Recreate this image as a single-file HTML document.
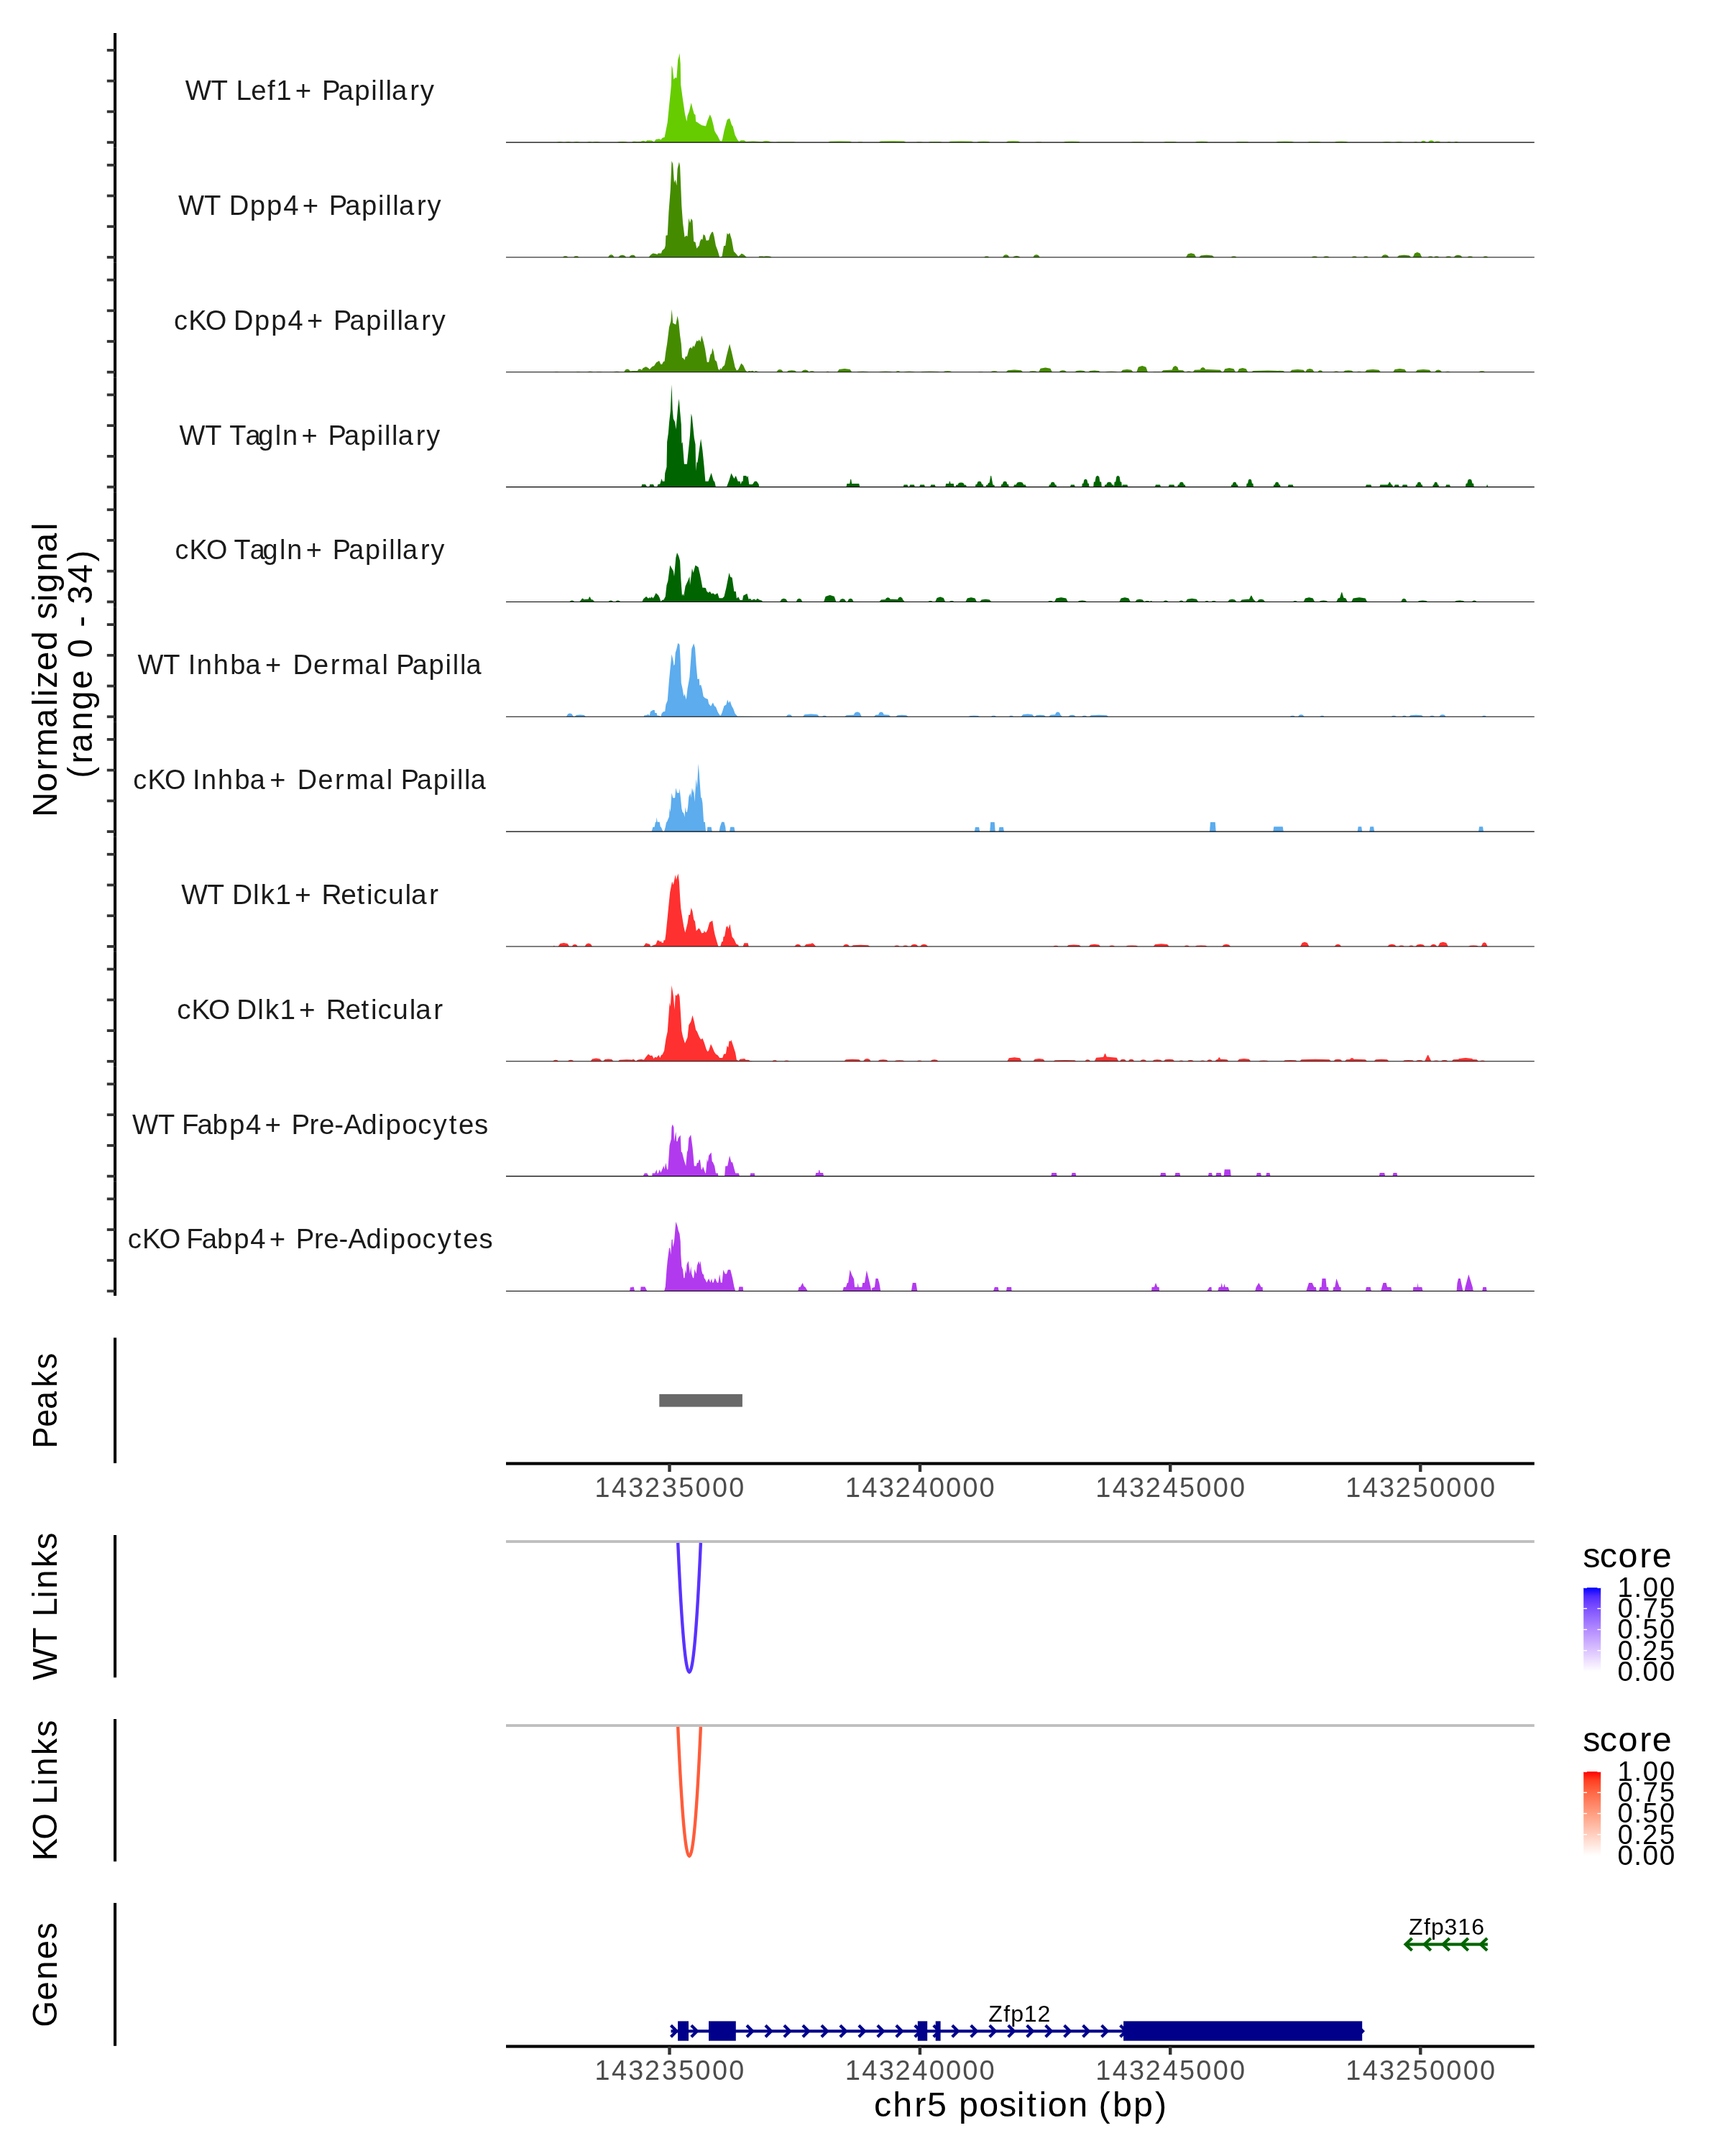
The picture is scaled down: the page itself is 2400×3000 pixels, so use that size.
<!DOCTYPE html><html><head><meta charset="utf-8"><style>html,body{margin:0;padding:0;background:#fff;}svg{display:block;font-family:"Liberation Sans",sans-serif;will-change:transform;}</style></head><body><svg width="2400" height="3000" viewBox="0 0 2400 3000" font-family="Liberation Sans, sans-serif">
<rect x="0" y="0" width="2400" height="3000" fill="#ffffff"/>
<g fill="#66CC00"><polygon points="880.0,198.1 880.0,197.5 891.6,196.9 895.1,195.8 898.6,196.9 900.3,195.2 906.7,195.5 910.1,197.5 912.5,194.0 917.1,193.2 919.4,194.4 921.7,191.7 924.6,191.1 926.4,181.9 928.7,170.3 931.0,147.1 932.8,129.7 933.9,118.1 934.5,90.9 935.7,94.9 937.4,110.6 939.7,107.7 941.4,108.8 943.2,83.3 944.3,79.8 945.5,74.0 946.7,89.1 947.2,118.1 949.6,135.5 953.0,158.7 955.4,169.1 956.5,161.0 958.8,155.2 961.7,143.0 963.5,150.6 965.8,158.7 967.5,159.8 968.1,169.1 970.4,170.3 972.8,172.0 976.2,174.3 982.0,175.5 984.3,168.0 987.8,159.3 990.1,164.5 992.5,173.8 994.2,181.9 995.9,185.3 998.3,188.8 1001.7,195.8 1004.1,196.4 1005.2,193.5 1007.5,181.9 1011.6,166.8 1015.1,164.5 1018.0,173.8 1019.7,176.1 1022.6,187.7 1026.1,194.6 1028.4,196.9 1030.7,195.2 1035.4,195.2 1037.7,196.9 1048.1,196.4 1059.7,197.3 1065.5,196.4 1071.3,197.5 1080.0,198.1 1080.0,198.1"/><polygon points="774.6,198.1 776.6,197.4 779.0,197.2 781.4,197.4 783.3,198.1"/><polygon points="786.2,198.1 788.1,197.4 790.6,197.2 793.0,197.4 794.9,198.1"/><polygon points="797.8,198.1 799.7,197.4 802.2,197.2 804.6,197.4 806.5,198.1"/><polygon points="816.7,198.1 818.3,197.4 820.3,197.2 822.3,197.4 823.9,198.1"/><polygon points="823.9,198.1 826.4,197.4 829.7,197.2 833.0,197.4 835.5,198.1"/><polygon points="858.7,198.1 861.2,197.2 865.9,196.9 870.7,197.2 873.2,198.1"/><polygon points="879.0,198.1 880.6,196.9 882.6,196.7 884.6,196.9 886.2,198.1"/><polygon points="890.6,198.1 892.2,196.7 894.2,196.4 896.2,196.7 897.8,198.1"/><polygon points="899.3,198.1 901.2,196.2 903.6,195.8 906.1,196.2 908.0,198.1"/><polygon points="1060.0,198.1 1062.5,196.6 1066.3,196.2 1070.0,196.6 1072.5,198.1"/><polygon points="1078.8,198.1 1081.3,197.6 1092.9,197.5 1104.5,197.6 1107.0,198.1"/><polygon points="1152.4,198.1 1154.9,196.8 1168.8,196.5 1182.7,196.8 1185.2,198.1"/><polygon points="1193.1,198.1 1194.8,197.6 1197.0,197.5 1199.2,197.6 1200.9,198.1"/><polygon points="1222.8,198.1 1225.3,196.6 1241.6,196.2 1257.9,196.6 1260.4,198.1"/><polygon points="1274.5,198.1 1276.5,197.6 1279.2,197.5 1281.8,197.6 1283.9,198.1"/><polygon points="1291.7,198.1 1294.2,197.3 1301.1,197.2 1308.0,197.3 1310.5,198.1"/><polygon points="1319.9,198.1 1322.4,196.8 1337.1,196.5 1351.8,196.8 1354.3,198.1"/><polygon points="1359.0,198.1 1361.5,197.1 1368.4,196.8 1375.3,197.1 1377.8,198.1"/><polygon points="1399.7,198.1 1402.2,196.6 1409.6,196.2 1416.9,196.6 1419.4,198.1"/><polygon points="1440.4,198.1 1442.5,197.6 1445.1,197.5 1447.7,197.6 1449.8,198.1"/><polygon points="1479.5,198.1 1482.0,197.1 1491.3,196.8 1500.5,197.1 1503.0,198.1"/><polygon points="1573.5,198.1 1576.0,197.6 1582.9,197.5 1589.7,197.6 1592.2,198.1"/><polygon points="1923.2,198.1 1925.7,197.4 1929.7,197.2 1933.7,197.4 1936.2,198.1"/><polygon points="1940.6,198.1 1943.1,197.4 1946.4,197.2 1949.7,197.4 1952.2,198.1"/><polygon points="1966.7,198.1 1967.9,197.4 1969.6,197.2 1971.2,197.4 1972.5,198.1"/><polygon points="1976.8,198.1 1978.4,196.2 1980.4,195.8 1982.5,196.2 1984.1,198.1"/><polygon points="1987.0,198.1 1988.9,195.8 1991.3,195.2 1993.7,195.8 1995.7,198.1"/><polygon points="1995.7,198.1 1997.6,196.7 2000.0,196.4 2002.4,196.7 2004.3,198.1"/><polygon points="2013.0,198.1 2014.3,197.4 2015.9,197.2 2017.6,197.4 2018.8,198.1"/><polygon points="2023.2,198.1 2024.5,197.2 2026.1,196.9 2027.7,197.2 2029.0,198.1"/><polygon points="1618.8,198.1 1621.3,197.3 1628.2,197.2 1635.1,197.3 1637.6,198.1"/><polygon points="1662.6,198.1 1665.1,197.1 1672.0,196.8 1678.9,197.1 1681.4,198.1"/><polygon points="1719.0,198.1 1721.5,197.3 1728.4,197.2 1735.3,197.3 1737.8,198.1"/><polygon points="1775.3,198.1 1777.8,197.1 1787.9,196.8 1797.9,197.1 1800.4,198.1"/><polygon points="1819.2,198.1 1821.7,197.3 1828.6,197.2 1835.4,197.3 1837.9,198.1"/><polygon points="1856.7,198.1 1859.2,197.1 1866.1,196.8 1873.0,197.1 1875.5,198.1"/></g>
<line x1="704.0" y1="198.10" x2="2134.8" y2="198.10" stroke="#000000" stroke-width="1.1"/>
<g fill="#458B00"><polygon points="880.0,357.9 880.0,354.7 882.3,355.0 884.6,357.9 902.6,357.9 904.9,355.0 908.4,352.5 911.3,353.1 914.8,353.9 915.4,352.5 920.0,352.5 921.2,348.7 924.6,345.8 925.8,341.7 926.4,327.8 928.7,327.2 930.4,295.3 932.8,264.0 934.5,224.0 936.2,228.1 938.0,254.2 939.7,250.1 941.4,258.2 942.6,235.0 944.9,225.2 946.1,231.6 947.2,258.2 948.4,287.2 950.1,310.4 951.3,319.7 952.5,330.1 954.8,327.8 956.5,329.0 958.3,303.4 960.0,310.4 961.7,304.0 963.5,306.9 965.2,335.9 967.5,337.1 969.3,345.8 971.6,342.9 972.8,341.7 973.9,335.9 975.7,332.4 977.4,333.6 978.6,326.1 980.9,327.8 982.6,334.8 986.1,334.2 987.8,327.8 990.1,323.2 991.9,322.6 993.6,329.0 995.9,341.7 998.3,348.1 999.4,351.6 1001.2,357.9 1004.6,356.8 1007.0,342.3 1009.3,341.7 1011.6,324.3 1013.3,326.6 1015.1,323.7 1018.0,333.6 1020.9,349.8 1023.8,352.7 1027.2,356.8 1029.6,355.0 1031.9,352.7 1035.4,354.7 1038.8,357.9 1055.7,357.9 1056.2,356.5 1061.4,356.5 1063.2,357.9 1064.9,356.8 1071.3,356.8 1073.6,357.9 1080.0,357.9 1080.0,357.9"/><polygon points="783.1,357.9 784.7,356.6 786.6,356.3 788.6,356.6 790.2,357.9"/><polygon points="798.1,357.9 799.7,356.6 801.8,356.3 803.8,356.6 805.4,357.9"/><polygon points="846.1,357.9 848.0,354.9 850.3,354.2 852.7,354.9 854.5,357.9"/><polygon points="860.3,357.9 862.7,355.4 865.8,354.8 868.8,355.4 871.2,357.9"/><polygon points="875.4,357.9 877.3,355.4 879.7,354.8 882.2,355.4 884.1,357.9"/><polygon points="1060.0,357.9 1062.5,356.7 1066.3,356.4 1070.0,356.7 1072.5,357.9"/><polygon points="1369.3,357.9 1370.8,356.7 1372.8,356.4 1374.7,356.7 1376.2,357.9"/><polygon points="1395.0,357.9 1397.1,354.9 1399.7,354.2 1402.3,354.9 1404.4,357.9"/><polygon points="1409.1,357.9 1411.4,356.4 1414.3,356.1 1417.2,356.4 1419.4,357.9"/><polygon points="1437.3,357.9 1439.3,354.9 1442.0,354.2 1444.6,354.9 1446.7,357.9"/><polygon points="1650.1,357.9 1652.6,353.4 1657.1,352.3 1661.7,353.4 1664.2,357.9"/><polygon points="1668.3,357.9 1670.8,355.4 1678.7,354.8 1686.7,355.4 1689.2,357.9"/><polygon points="1712.7,357.9 1714.4,356.7 1716.6,356.4 1718.8,356.7 1720.5,357.9"/><polygon points="1824.8,357.9 1826.7,356.7 1829.0,356.4 1831.4,356.7 1833.2,357.9"/><polygon points="1841.1,357.9 1842.9,356.7 1845.3,356.4 1847.7,356.7 1849.5,357.9"/><polygon points="1880.8,357.9 1882.4,356.7 1884.4,356.4 1886.5,356.7 1888.0,357.9"/><polygon points="1896.8,357.9 1898.3,356.7 1900.3,356.4 1902.2,356.7 1903.7,357.9"/><polygon points="1921.9,357.9 1924.2,354.9 1927.2,354.2 1930.2,354.9 1932.5,357.9"/><polygon points="1943.8,357.9 1946.3,355.4 1953.5,354.8 1960.7,355.4 1963.2,357.9"/><polygon points="1965.7,357.9 1968.2,352.4 1971.9,351.1 1975.7,352.4 1978.2,357.9"/><polygon points="1986.7,357.9 1988.2,356.7 1990.3,356.4 1992.3,356.7 1993.9,357.9"/><polygon points="1995.1,357.9 1996.7,356.7 1998.7,356.4 2000.7,356.7 2002.3,357.9"/><polygon points="2011.1,357.9 2012.9,356.7 2015.3,356.4 2017.7,356.7 2019.5,357.9"/><polygon points="2022.7,357.9 2025.2,355.4 2028.6,354.8 2032.1,355.4 2034.6,357.9"/><polygon points="2041.5,357.9 2043.2,356.7 2045.4,356.4 2047.6,356.7 2049.3,357.9"/><polygon points="2063.4,357.9 2064.9,356.7 2066.8,356.4 2068.7,356.7 2070.3,357.9"/></g>
<line x1="704.0" y1="357.94" x2="2134.8" y2="357.94" stroke="#000000" stroke-width="1.1"/>
<g fill="#458B00"><polygon points="873.0,517.8 873.0,517.2 876.5,516.6 880.0,516.0 887.0,516.0 888.7,513.4 891.6,513.7 892.8,514.9 894.5,512.3 898.6,510.2 902.0,512.0 903.8,514.1 907.2,510.2 910.1,509.1 913.0,504.4 917.1,502.1 919.4,507.1 921.2,506.8 922.9,503.3 924.6,502.7 926.4,488.8 928.1,478.4 931.0,455.2 933.3,447.1 934.7,430.2 936.2,449.4 940.3,451.7 942.6,439.5 944.3,448.2 946.1,466.8 947.8,478.4 949.0,497.5 950.7,498.6 952.5,501.0 953.6,496.3 955.9,495.8 958.8,485.3 961.2,483.0 962.3,485.3 964.6,480.7 965.8,483.0 969.3,473.7 971.0,474.9 972.8,472.6 974.5,476.0 976.2,466.8 978.6,474.9 980.9,485.3 983.8,503.9 986.1,503.9 988.4,493.4 990.1,491.7 991.3,484.2 993.0,490.0 994.8,501.0 997.1,503.3 999.4,513.7 1001.2,514.9 1002.3,512.0 1003.5,514.1 1005.2,510.8 1008.1,507.9 1010.4,496.9 1015.1,478.4 1018.0,490.0 1021.4,505.0 1022.6,510.8 1024.9,515.5 1027.2,514.3 1031.3,505.6 1034.2,508.5 1037.1,514.9 1039.4,517.2 1042.3,516.0 1044.6,516.6 1047.0,515.7 1049.3,517.2 1051.6,516.0 1056.2,517.8 1080.0,517.8 1080.0,517.8"/><polygon points="771.0,517.8 772.4,517.3 774.1,517.2 775.9,517.3 777.2,517.8"/><polygon points="801.3,517.8 802.6,517.3 804.4,517.2 806.1,517.3 807.5,517.8"/><polygon points="816.9,517.8 818.7,516.9 821.1,516.7 823.4,516.9 825.3,517.8"/><polygon points="829.4,517.8 831.3,517.3 833.6,517.2 835.9,517.3 837.8,517.8"/><polygon points="853.4,517.8 855.5,516.9 858.1,516.7 860.8,516.9 862.8,517.8"/><polygon points="868.1,517.8 870.1,514.4 872.8,513.6 875.4,514.4 877.5,517.8"/><polygon points="1080.4,517.8 1082.4,514.8 1085.0,514.0 1087.7,514.8 1089.7,517.8"/><polygon points="1094.4,517.8 1096.9,515.8 1101.5,515.3 1106.0,515.8 1108.5,517.8"/><polygon points="1114.8,517.8 1117.2,515.3 1120.3,514.6 1123.3,515.3 1125.7,517.8"/><polygon points="1125.7,517.8 1127.5,516.5 1129.7,516.2 1131.9,516.5 1133.6,517.8"/><polygon points="1149.2,517.8 1150.3,517.0 1151.6,516.8 1152.9,517.0 1153.9,517.8"/><polygon points="1164.9,517.8 1167.4,514.0 1175.1,513.1 1182.7,514.0 1185.2,517.8"/><polygon points="1191.5,517.8 1194.0,517.0 1200.1,516.8 1206.2,517.0 1208.7,517.8"/><polygon points="1222.8,517.8 1225.3,517.0 1232.2,516.8 1239.1,517.0 1241.6,517.8"/><polygon points="1246.3,517.8 1247.7,516.5 1249.4,516.2 1251.2,516.5 1252.5,517.8"/><polygon points="1257.2,517.8 1259.7,517.0 1265.1,516.8 1270.4,517.0 1272.9,517.8"/><polygon points="1280.7,517.8 1283.2,517.0 1294.0,516.8 1304.8,517.0 1307.3,517.8"/><polygon points="1312.0,517.8 1314.5,516.5 1318.3,516.2 1322.1,516.5 1324.6,517.8"/><polygon points="1360.6,517.8 1362.3,517.3 1364.5,517.2 1366.7,517.3 1368.4,517.8"/><polygon points="1377.8,517.8 1380.2,516.5 1383.3,516.2 1386.3,516.5 1388.7,517.8"/><polygon points="1399.7,517.8 1402.2,515.3 1411.4,514.6 1420.7,515.3 1423.2,517.8"/><polygon points="1431.0,517.8 1433.5,516.5 1437.3,516.2 1441.0,516.5 1443.5,517.8"/><polygon points="1445.1,517.8 1447.6,512.8 1454.5,511.5 1461.4,512.8 1463.9,517.8"/><polygon points="1473.3,517.8 1475.7,515.8 1478.8,515.3 1481.8,515.8 1484.2,517.8"/><polygon points="1495.2,517.8 1497.7,516.0 1503.0,515.6 1508.3,516.0 1510.8,517.8"/><polygon points="1514.0,517.8 1516.5,516.0 1522.6,515.6 1528.7,516.0 1531.2,517.8"/><polygon points="1537.5,517.8 1540.0,517.0 1546.1,516.8 1552.2,517.0 1554.7,517.8"/><polygon points="1559.4,517.8 1561.9,514.8 1568.0,514.0 1574.1,514.8 1576.6,517.8"/><polygon points="1581.3,517.8 1583.8,510.8 1589.1,509.0 1594.4,510.8 1596.9,517.8"/><polygon points="1603.1,517.8 1605.6,517.3 1609.4,517.2 1613.2,517.3 1615.7,517.8"/><polygon points="1615.7,517.8 1618.2,515.3 1632.1,514.6 1646.0,515.3 1648.5,517.8"/><polygon points="1629.7,517.8 1632.2,510.8 1635.2,509.0 1638.3,510.8 1640.7,517.8"/><polygon points="1650.1,517.8 1651.8,516.8 1654.0,516.5 1656.2,516.8 1657.9,517.8"/><polygon points="1659.5,517.8 1662.0,514.8 1679.8,514.0 1697.7,514.8 1700.2,517.8"/><polygon points="1668.9,517.8 1670.9,512.3 1673.6,510.9 1676.2,512.3 1678.3,517.8"/><polygon points="1701.8,517.8 1704.3,513.3 1710.4,512.1 1716.5,513.3 1719.0,517.8"/><polygon points="1721.5,517.8 1724.0,513.3 1728.8,512.1 1733.7,513.3 1736.2,517.8"/><polygon points="1740.9,517.8 1743.4,516.0 1764.4,515.6 1785.4,516.0 1787.9,517.8"/><polygon points="1794.7,517.8 1797.2,514.8 1805.4,514.0 1813.5,514.8 1816.0,517.8"/><polygon points="1816.0,517.8 1818.5,514.0 1822.3,513.1 1826.1,514.0 1828.6,517.8"/><polygon points="1833.2,517.8 1834.8,515.8 1836.9,515.3 1838.9,515.8 1840.5,517.8"/><polygon points="1855.2,517.8 1856.9,516.8 1859.1,516.5 1861.3,516.8 1863.0,517.8"/><polygon points="1868.6,517.8 1871.1,515.8 1876.0,515.3 1880.8,515.8 1883.3,517.8"/><polygon points="1887.4,517.8 1888.9,517.0 1890.9,516.8 1892.8,517.0 1894.3,517.8"/><polygon points="1899.0,517.8 1901.5,514.8 1910.0,514.0 1918.4,514.8 1920.9,517.8"/><polygon points="1938.1,517.8 1940.6,514.0 1947.5,513.1 1954.4,514.0 1956.9,517.8"/><polygon points="1969.4,517.8 1971.9,514.8 1980.4,514.0 1988.9,514.8 1991.4,517.8"/><polygon points="1996.1,517.8 1998.3,515.3 2001.1,514.6 2003.9,515.3 2006.1,517.8"/><polygon points="2010.1,517.8 2011.9,517.0 2014.1,516.8 2016.2,517.0 2018.0,517.8"/><polygon points="2057.1,517.8 2059.2,516.5 2061.8,516.2 2064.4,516.5 2066.5,517.8"/></g>
<line x1="704.0" y1="517.78" x2="2134.8" y2="517.78" stroke="#000000" stroke-width="1.1"/>
<g fill="#006400"><polygon points="880.0,677.6 880.0,677.6 892.2,677.6 893.3,673.9 898.0,673.9 900.3,677.6 903.2,677.6 904.3,673.9 909.0,673.9 910.7,677.6 914.2,677.6 915.4,673.9 918.3,673.6 920.6,666.0 921.7,669.7 924.6,669.7 925.2,658.5 927.5,649.8 928.1,615.0 929.9,602.3 931.0,588.3 932.8,572.1 934.5,535.0 935.7,569.8 936.8,582.5 939.1,587.2 940.5,597.6 943.2,566.3 944.7,554.7 946.1,572.1 947.8,590.7 948.4,617.3 949.6,615.0 951.9,645.7 955.9,645.7 960.0,605.7 961.7,575.6 962.9,580.2 965.8,609.2 967.5,618.5 968.3,655.6 969.3,642.8 970.4,644.0 972.8,626.6 975.1,610.4 977.4,626.6 979.7,649.8 981.4,669.7 985.5,669.7 989.6,657.9 991.9,666.0 993.0,669.5 994.2,670.1 995.9,677.6 1011.0,677.6 1014.5,668.3 1017.4,658.5 1021.4,666.0 1023.8,662.0 1026.7,669.7 1029.6,669.7 1030.7,673.9 1031.9,669.7 1033.6,669.7 1034.2,662.0 1038.3,662.0 1039.4,664.3 1040.6,662.0 1042.3,673.9 1047.0,673.9 1049.9,669.7 1052.8,669.7 1055.7,673.9 1056.2,677.6 1080.0,677.6 1080.0,677.6"/><polygon points="1177.4,677.6 1178.4,672.9 1195.2,672.9 1196.2,677.6"/><polygon points="1181.5,677.6 1183.3,666.7 1184.1,666.7 1185.9,677.6"/><polygon points="1256.6,677.6 1257.6,674.5 1262.5,674.5 1263.5,677.6"/><polygon points="1265.1,677.6 1266.1,674.5 1271.9,674.5 1272.9,677.6"/><polygon points="1279.2,677.6 1280.2,674.5 1286.0,674.5 1287.0,677.6"/><polygon points="1294.2,677.6 1295.2,674.5 1300.7,674.5 1301.7,677.6"/><polygon points="1315.2,677.6 1316.2,672.9 1326.7,672.9 1327.7,677.6"/><polygon points="1319.2,677.6 1321.0,669.8 1321.8,669.8 1323.6,677.6"/><polygon points="1329.3,677.6 1330.2,674.8 1332.4,674.8 1334.0,672.0 1336.3,671.4 1337.9,671.4 1340.2,672.0 1341.8,674.8 1344.0,674.8 1344.9,677.6"/><polygon points="1356.8,677.6 1357.5,674.1 1359.1,674.1 1360.3,670.6 1362.0,669.8 1363.2,669.8 1364.9,670.6 1366.1,674.1 1367.7,674.1 1368.4,677.6"/><polygon points="1371.5,677.6 1372.3,674.8 1374.0,674.8 1375.3,672.0 1377.2,671.4 1378.4,671.4 1380.3,672.0 1381.5,674.8 1383.3,674.8 1384.0,677.6"/><polygon points="1375.6,677.6 1378.3,662.0 1379.1,662.0 1381.9,677.6"/><polygon points="1392.5,677.6 1393.2,674.1 1394.8,674.1 1395.9,670.6 1397.6,669.8 1398.7,669.8 1400.4,670.6 1401.5,674.1 1403.1,674.1 1403.8,677.6"/><polygon points="1410.0,677.6 1411.1,674.5 1413.6,674.5 1415.4,671.4 1418.1,670.7 1419.8,670.7 1422.5,671.4 1424.3,674.5 1426.8,674.5 1427.9,677.6"/><polygon points="1459.2,677.6 1459.8,674.5 1461.4,674.5 1462.5,671.4 1464.1,670.7 1465.2,670.7 1466.9,671.4 1468.0,674.5 1469.5,674.5 1470.1,677.6"/><polygon points="1488.9,677.6 1489.9,674.5 1494.8,674.5 1495.8,677.6"/><polygon points="1505.2,677.6 1505.8,672.7 1507.3,672.7 1508.3,667.8 1509.9,666.7 1510.9,666.7 1512.4,667.8 1513.5,672.7 1514.9,672.7 1515.5,677.6"/><polygon points="1521.2,677.6 1521.9,670.6 1523.5,670.6 1524.7,663.5 1526.4,662.0 1527.5,662.0 1529.3,663.5 1530.4,670.6 1532.1,670.6 1532.8,677.6"/><polygon points="1536.5,677.6 1537.3,674.5 1539.2,674.5 1540.6,671.4 1542.6,670.7 1543.9,670.7 1545.9,671.4 1547.3,674.5 1549.2,674.5 1550.0,677.6"/><polygon points="1550.0,677.6 1550.6,670.6 1552.2,670.6 1553.3,663.5 1554.9,662.0 1556.0,662.0 1557.7,663.5 1558.7,670.6 1560.3,670.6 1560.9,677.6"/><polygon points="1560.9,677.6 1561.9,674.5 1568.4,674.5 1569.4,677.6"/><polygon points="1606.9,677.6 1607.9,674.5 1614.0,674.5 1615.0,677.6"/><polygon points="1625.7,677.6 1626.7,674.5 1633.4,674.5 1634.4,677.6"/><polygon points="1638.2,677.6 1638.9,674.5 1640.5,674.5 1641.6,671.4 1643.3,670.7 1644.4,670.7 1646.1,671.4 1647.2,674.5 1648.8,674.5 1649.5,677.6"/><polygon points="1712.7,677.6 1713.3,674.5 1714.7,674.5 1715.7,671.4 1717.2,670.7 1718.2,670.7 1719.7,671.4 1720.7,674.5 1722.1,674.5 1722.7,677.6"/><polygon points="1734.0,677.6 1734.6,672.7 1736.0,672.7 1737.0,667.8 1738.5,666.7 1739.5,666.7 1741.0,667.8 1742.0,672.7 1743.4,672.7 1744.0,677.6"/><polygon points="1771.6,677.6 1772.2,674.5 1773.6,674.5 1774.6,671.4 1776.1,670.7 1777.1,670.7 1778.6,671.4 1779.6,674.5 1781.0,674.5 1781.6,677.6"/><polygon points="1791.6,677.6 1792.6,674.5 1798.7,674.5 1799.7,677.6"/><polygon points="1899.9,677.6 1900.9,674.5 1907.4,674.5 1908.4,677.6"/><polygon points="1919.3,677.6 1920.3,674.5 1937.1,674.5 1938.1,677.6"/><polygon points="1929.4,677.6 1933.0,670.7 1933.8,670.7 1937.5,677.6"/><polygon points="1939.7,677.6 1940.7,674.5 1945.9,674.5 1946.9,677.6"/><polygon points="1950.7,677.6 1951.7,674.5 1957.5,674.5 1958.5,677.6"/><polygon points="1969.4,677.6 1970.0,674.5 1971.4,674.5 1972.4,671.4 1974.0,670.7 1975.0,670.7 1976.5,671.4 1977.5,674.5 1978.9,674.5 1979.5,677.6"/><polygon points="1993.2,677.6 1993.8,674.5 1995.0,674.5 1995.9,671.4 1997.2,670.7 1998.1,670.7 1999.4,671.4 2000.3,674.5 2001.5,674.5 2002.0,677.6"/><polygon points="2011.1,677.6 2012.1,674.5 2017.0,674.5 2018.0,677.6"/><polygon points="2038.9,677.6 2039.7,672.7 2041.3,672.7 2042.5,667.8 2044.3,666.7 2045.5,666.7 2047.3,667.8 2048.5,672.7 2050.1,672.7 2050.8,677.6"/><polygon points="2068.1,677.6 2068.8,674.5 2069.5,674.5 2070.3,677.6"/></g>
<line x1="704.0" y1="677.62" x2="2134.8" y2="677.62" stroke="#000000" stroke-width="1.1"/>
<g fill="#006400"><polygon points="880.0,837.5 880.0,837.5 893.3,837.5 895.1,833.4 899.1,829.9 902.0,832.8 904.3,831.1 904.9,832.8 906.7,830.3 908.4,832.6 910.1,830.3 912.5,825.3 915.9,828.2 917.7,831.7 919.4,836.9 921.2,835.1 923.5,834.6 925.8,829.9 927.5,814.3 929.3,808.5 932.2,786.4 936.8,794.6 938.0,802.1 940.3,776.0 942.0,769.1 944.3,773.7 946.1,780.6 947.2,803.8 949.0,829.3 950.1,825.9 951.3,829.3 953.6,815.4 957.1,807.9 959.4,802.1 960.0,814.3 962.9,791.1 964.6,796.9 967.5,786.4 971.6,789.3 973.9,799.2 975.7,808.5 977.4,817.7 979.7,817.7 982.0,818.3 983.2,822.4 985.5,824.7 987.8,823.0 990.1,826.4 991.9,825.3 994.8,827.6 998.3,825.3 1000.6,832.2 1005.2,832.2 1007.5,829.9 1010.4,817.7 1014.5,796.9 1016.2,802.7 1018.6,803.8 1021.4,823.0 1023.8,823.0 1024.9,832.8 1027.2,830.5 1029.6,835.1 1033.0,835.1 1034.2,828.8 1036.5,827.6 1039.4,825.9 1041.7,834.0 1043.5,832.8 1045.8,835.1 1049.3,833.4 1051.6,835.1 1053.9,832.8 1056.2,834.6 1060.3,835.7 1060.9,837.5 1080.0,837.5 1080.0,837.5"/><polygon points="792.1,837.5 793.8,835.9 795.8,835.5 797.9,835.9 799.5,837.5"/><polygon points="806.1,837.5 808.6,834.5 816.7,833.8 824.8,834.5 827.3,837.5"/><polygon points="808.1,837.5 809.2,833.5 810.6,832.5 811.9,833.5 813.0,837.5"/><polygon points="816.7,837.5 820.0,830.6 820.8,830.6 824.1,837.5"/><polygon points="846.2,837.5 847.8,835.9 849.9,835.5 851.9,835.9 853.6,837.5"/><polygon points="856.0,837.5 857.6,835.9 859.7,835.5 861.8,835.9 863.4,837.5"/><polygon points="1085.0,837.5 1087.5,833.7 1090.5,832.8 1093.6,833.7 1096.0,837.5"/><polygon points="1107.6,837.5 1109.5,833.7 1112.0,832.8 1114.4,833.7 1116.4,837.5"/><polygon points="1146.1,837.5 1148.6,829.9 1154.7,828.1 1160.8,829.9 1163.3,837.5"/><polygon points="1167.4,837.5 1169.6,834.0 1172.4,833.1 1175.2,834.0 1177.4,837.5"/><polygon points="1179.0,837.5 1180.9,833.7 1183.4,832.8 1185.8,833.7 1187.7,837.5"/><polygon points="1223.4,837.5 1225.9,834.5 1241.1,833.7 1256.3,834.5 1258.8,837.5"/><polygon points="1230.6,837.5 1232.7,832.5 1235.3,831.2 1238.0,832.5 1240.0,837.5"/><polygon points="1247.9,837.5 1249.9,831.9 1252.5,830.6 1255.2,831.9 1257.2,837.5"/><polygon points="1291.1,837.5 1292.6,836.2 1294.5,835.9 1296.4,836.2 1297.9,837.5"/><polygon points="1301.1,837.5 1303.6,831.9 1308.1,830.6 1312.7,831.9 1315.2,837.5"/><polygon points="1320.5,837.5 1322.1,836.2 1324.1,835.9 1326.1,836.2 1327.7,837.5"/><polygon points="1343.3,837.5 1345.8,832.5 1351.2,831.2 1356.5,832.5 1359.0,837.5"/><polygon points="1363.1,837.5 1365.6,834.5 1371.2,833.7 1376.8,834.5 1379.3,837.5"/><polygon points="1457.6,837.5 1459.3,836.2 1461.5,835.9 1463.7,836.2 1465.4,837.5"/><polygon points="1467.0,837.5 1469.5,832.5 1476.4,831.2 1483.3,832.5 1485.8,837.5"/><polygon points="1498.9,837.5 1501.4,836.0 1505.7,835.6 1509.9,836.0 1512.4,837.5"/><polygon points="1557.2,837.5 1559.7,832.5 1565.0,831.2 1570.3,832.5 1572.8,837.5"/><polygon points="1579.1,837.5 1581.6,834.5 1585.7,833.7 1589.7,834.5 1592.2,837.5"/><polygon points="1592.2,837.5 1594.0,836.2 1596.2,835.9 1598.4,836.2 1600.1,837.5"/><polygon points="1600.0,837.5 1600.7,836.2 1601.6,835.9 1602.4,836.2 1603.1,837.5"/><polygon points="1618.2,837.5 1619.8,836.0 1621.9,835.6 1624.0,836.0 1625.7,837.5"/><polygon points="1640.1,837.5 1641.6,836.0 1643.5,835.6 1645.4,836.0 1647.0,837.5"/><polygon points="1649.5,837.5 1652.0,833.7 1658.4,832.8 1664.8,833.7 1667.3,837.5"/><polygon points="1676.1,837.5 1677.4,836.2 1679.1,835.9 1680.7,836.2 1682.0,837.5"/><polygon points="1685.2,837.5 1686.7,836.2 1688.8,835.9 1690.8,836.2 1692.4,837.5"/><polygon points="1708.0,837.5 1710.5,834.5 1714.3,833.7 1718.0,834.5 1720.5,837.5"/><polygon points="1725.2,837.5 1727.7,834.5 1736.2,833.7 1744.7,834.5 1747.2,837.5"/><polygon points="1736.2,837.5 1740.5,828.7 1741.3,828.7 1745.6,837.5"/><polygon points="1748.7,837.5 1751.2,834.5 1754.5,833.7 1757.8,834.5 1760.3,837.5"/><polygon points="1798.8,837.5 1800.2,836.2 1801.9,835.9 1803.7,836.2 1805.1,837.5"/><polygon points="1813.5,837.5 1816.0,832.5 1821.4,831.2 1826.7,832.5 1829.2,837.5"/><polygon points="1834.8,837.5 1837.3,836.0 1841.4,835.6 1845.5,836.0 1848.0,837.5"/><polygon points="1859.2,837.5 1861.7,832.5 1867.1,831.2 1872.4,832.5 1874.9,837.5"/><polygon points="1862.4,837.5 1866.4,824.3 1867.2,824.3 1871.1,837.5"/><polygon points="1880.2,837.5 1882.7,832.5 1891.2,831.2 1899.6,832.5 1902.1,837.5"/><polygon points="1949.1,837.5 1951.0,833.7 1953.3,832.8 1955.7,833.7 1957.5,837.5"/><polygon points="1971.9,837.5 1974.4,836.0 1979.3,835.6 1984.2,836.0 1986.7,837.5"/><polygon points="2023.3,837.5 2025.8,836.0 2030.8,835.6 2035.8,836.0 2038.3,837.5"/><polygon points="2047.7,837.5 2049.2,836.0 2051.2,835.6 2053.1,836.0 2054.6,837.5"/></g>
<line x1="704.0" y1="837.46" x2="2134.8" y2="837.46" stroke="#000000" stroke-width="1.1"/>
<g fill="#5CACEE"><polygon points="880.0,997.3 880.0,997.3 895.7,997.3 896.2,995.6 900.3,995.0 901.4,993.8 903.8,995.6 904.9,990.3 908.4,988.0 910.7,988.0 911.3,992.1 913.6,992.1 914.2,995.6 917.7,996.1 919.4,997.3 920.6,992.7 922.9,990.3 925.2,990.0 926.4,980.5 928.7,974.7 931.0,945.7 934.5,910.3 936.8,920.2 937.4,926.0 938.6,924.8 939.7,908.6 941.4,902.8 943.2,894.7 945.5,897.0 946.7,919.0 947.8,950.3 949.6,958.5 951.3,968.9 952.5,965.4 954.8,973.5 956.5,958.5 959.4,942.2 962.3,902.8 965.2,895.3 967.0,901.6 968.7,926.0 970.4,945.1 972.8,944.5 973.3,953.8 975.1,952.7 976.8,958.5 978.6,968.9 980.9,971.2 984.9,973.0 986.1,979.3 989.0,982.8 991.9,977.6 994.2,982.8 995.9,983.4 998.8,990.9 1001.7,995.6 1002.9,995.6 1004.6,991.5 1007.5,982.2 1010.4,980.5 1012.2,973.5 1013.9,978.2 1015.7,975.3 1018.0,982.2 1020.3,986.3 1022.6,992.7 1026.1,996.7 1080.0,997.3 1080.0,997.3"/><polygon points="788.0,997.3 790.1,993.4 792.9,992.4 795.6,993.4 797.8,997.3"/><polygon points="799.5,997.3 802.0,994.9 807.2,994.4 812.5,994.9 815.0,997.3"/><polygon points="1093.8,997.3 1095.7,994.8 1098.0,994.2 1100.4,994.8 1102.3,997.3"/><polygon points="1117.0,997.3 1119.5,994.3 1128.4,993.5 1137.3,994.3 1139.8,997.3"/><polygon points="1143.9,997.3 1145.3,996.0 1147.0,995.7 1148.8,996.0 1150.2,997.3"/><polygon points="1175.2,997.3 1177.7,995.3 1187.0,994.8 1196.2,995.3 1198.7,997.3"/><polygon points="1186.8,997.3 1189.3,991.8 1192.7,990.4 1196.2,991.8 1198.7,997.3"/><polygon points="1215.9,997.3 1218.4,994.8 1227.5,994.2 1236.6,994.8 1239.1,997.3"/><polygon points="1221.2,997.3 1223.3,991.8 1225.9,990.4 1228.6,991.8 1230.6,997.3"/><polygon points="1246.3,997.3 1248.8,995.3 1254.9,994.8 1261.0,995.3 1263.5,997.3"/><polygon points="1347.4,997.3 1349.9,996.0 1355.2,995.7 1360.6,996.0 1363.1,997.3"/><polygon points="1378.7,997.3 1380.4,996.0 1382.5,995.7 1384.6,996.0 1386.2,997.3"/><polygon points="1403.8,997.3 1405.1,996.0 1406.9,995.7 1408.7,996.0 1410.0,997.3"/><polygon points="1420.7,997.3 1423.2,994.3 1429.8,993.5 1436.3,994.3 1438.8,997.3"/><polygon points="1439.5,997.3 1442.0,995.3 1447.3,994.8 1452.6,995.3 1455.1,997.3"/><polygon points="1459.2,997.3 1461.7,994.8 1468.6,994.2 1475.5,994.8 1478.0,997.3"/><polygon points="1467.0,997.3 1469.1,991.8 1471.7,990.4 1474.3,991.8 1476.4,997.3"/><polygon points="1486.4,997.3 1488.7,995.3 1491.6,994.8 1494.5,995.3 1496.8,997.3"/><polygon points="1505.2,997.3 1506.8,996.0 1508.8,995.7 1510.8,996.0 1512.4,997.3"/><polygon points="1515.5,997.3 1518.0,995.3 1528.8,994.8 1539.7,995.3 1542.2,997.3"/><polygon points="1794.7,997.3 1796.3,996.0 1798.3,995.7 1800.4,996.0 1801.9,997.3"/><polygon points="1806.0,997.3 1807.9,994.8 1810.2,994.2 1812.6,994.8 1814.5,997.3"/><polygon points="1836.4,997.3 1837.8,996.0 1839.5,995.7 1841.3,996.0 1842.6,997.3"/><polygon points="1935.6,997.3 1937.2,996.0 1939.2,995.7 1941.2,996.0 1942.8,997.3"/><polygon points="1950.7,997.3 1952.0,996.0 1953.8,995.7 1955.5,996.0 1956.9,997.3"/><polygon points="1960.1,997.3 1962.6,995.3 1970.2,994.8 1977.9,995.3 1980.4,997.3"/><polygon points="1988.9,997.3 1990.4,996.0 1992.5,995.7 1994.5,996.0 1996.1,997.3"/><polygon points="2002.3,997.3 2004.4,994.8 2007.0,994.2 2009.6,994.8 2011.7,997.3"/><polygon points="2061.8,997.3 2063.2,996.0 2064.9,995.7 2066.7,996.0 2068.1,997.3"/></g>
<line x1="704.0" y1="997.30" x2="2134.8" y2="997.30" stroke="#000000" stroke-width="1.1"/>
<g fill="#5CACEE"><polygon points="880.0,1157.1 880.0,1157.1 906.7,1157.1 908.4,1150.8 910.7,1150.8 911.9,1143.8 913.0,1143.8 913.6,1136.9 914.6,1143.8 917.7,1143.8 918.8,1150.2 920.0,1151.3 922.3,1157.1 924.1,1157.1 925.8,1150.8 927.0,1144.4 928.1,1143.2 931.0,1136.3 931.6,1124.1 932.8,1129.9 934.5,1103.2 936.2,1110.2 939.1,1110.2 940.3,1096.3 942.0,1103.2 944.9,1103.2 945.5,1096.9 946.7,1107.9 948.4,1125.3 949.6,1129.9 951.3,1131.6 952.5,1136.9 953.6,1122.9 954.8,1129.9 955.9,1129.9 957.1,1122.9 958.3,1109.0 960.6,1103.2 961.2,1110.2 962.9,1096.3 964.6,1103.2 965.2,1096.9 966.4,1116.0 968.1,1090.5 968.7,1084.1 969.9,1096.3 971.6,1062.6 972.8,1076.6 975.1,1109.6 976.2,1110.2 977.4,1117.1 979.1,1143.8 980.9,1143.8 982.0,1157.1 983.8,1157.1 984.3,1150.8 989.6,1150.8 990.7,1157.1 1000.6,1157.1 1001.7,1150.8 1004.1,1143.8 1007.5,1143.8 1009.3,1150.8 1009.9,1157.1 1015.1,1157.1 1016.2,1150.8 1021.4,1150.8 1022.6,1157.1 1080.0,1157.1 1080.0,1157.1"/><polygon points="1355.9,1157.1 1356.9,1150.9 1362.1,1150.9 1363.1,1157.1"/><polygon points="1377.2,1157.1 1378.2,1144.0 1383.7,1144.0 1384.7,1157.1"/><polygon points="1389.4,1157.1 1390.4,1150.9 1395.9,1150.9 1396.9,1157.1"/><polygon points="1683.0,1157.1 1684.0,1144.0 1690.7,1144.0 1691.7,1157.1"/><polygon points="1771.3,1157.1 1772.3,1150.3 1784.7,1150.3 1785.7,1157.1"/><polygon points="1888.7,1157.1 1889.7,1150.3 1894.2,1150.3 1895.2,1157.1"/><polygon points="1905.3,1157.1 1906.3,1150.3 1911.1,1150.3 1912.1,1157.1"/><polygon points="2057.1,1157.1 2058.1,1150.3 2063.0,1150.3 2064.0,1157.1"/></g>
<line x1="704.0" y1="1157.14" x2="2134.8" y2="1157.14" stroke="#000000" stroke-width="1.1"/>
<g fill="#FF3030"><polygon points="880.0,1317.0 880.0,1317.0 895.1,1317.0 896.2,1315.8 898.6,1312.3 904.3,1314.1 904.9,1317.0 906.7,1317.0 907.8,1315.8 912.5,1314.1 914.8,1308.3 917.1,1308.9 918.3,1310.6 920.0,1309.4 920.6,1311.8 922.9,1311.8 923.5,1308.3 925.2,1308.3 926.4,1299.6 928.7,1276.4 931.0,1253.2 932.2,1241.6 935.1,1226.5 936.8,1231.2 939.7,1217.3 940.9,1224.2 943.5,1215.5 944.9,1226.5 946.1,1247.4 947.2,1263.6 949.6,1278.7 951.3,1289.2 953.3,1297.8 956.5,1285.1 958.3,1272.9 960.0,1272.9 961.7,1263.1 963.5,1268.3 965.2,1279.3 967.0,1282.2 968.7,1295.5 972.2,1291.5 973.9,1293.2 976.2,1298.4 979.1,1297.8 979.7,1294.4 980.9,1297.3 982.6,1297.3 984.3,1293.8 987.2,1283.4 991.3,1281.0 993.0,1292.6 994.8,1301.3 997.7,1311.2 999.4,1317.0 1002.3,1317.0 1004.1,1310.6 1005.8,1310.0 1006.4,1303.6 1008.1,1303.1 1010.4,1289.7 1012.2,1288.6 1013.3,1292.6 1015.7,1285.7 1016.8,1293.8 1018.6,1303.6 1021.4,1307.1 1024.3,1313.5 1027.2,1314.7 1027.8,1317.0 1033.6,1317.0 1035.4,1312.3 1040.6,1312.3 1041.7,1317.0 1080.0,1317.0 1080.0,1317.0"/><polygon points="770.0,1317.0 770.4,1316.0 770.9,1315.8 771.4,1316.0 771.7,1317.0"/><polygon points="776.7,1317.0 779.2,1313.0 784.4,1312.1 789.6,1313.0 792.1,1317.0"/><polygon points="795.8,1317.0 797.6,1314.6 799.8,1314.0 802.0,1314.6 803.7,1317.0"/><polygon points="813.5,1317.0 815.8,1313.4 818.8,1312.6 821.8,1313.4 824.1,1317.0"/><polygon points="1105.4,1317.0 1107.5,1314.5 1110.1,1313.8 1112.7,1314.5 1114.8,1317.0"/><polygon points="1118.9,1317.0 1121.4,1314.0 1127.0,1313.2 1132.6,1314.0 1135.1,1317.0"/><polygon points="1126.4,1317.0 1128.0,1313.2 1130.0,1312.3 1132.0,1313.2 1133.6,1317.0"/><polygon points="1172.7,1317.0 1174.8,1314.5 1177.4,1313.8 1180.0,1314.5 1182.1,1317.0"/><polygon points="1184.6,1317.0 1187.1,1315.2 1197.4,1314.8 1207.8,1315.2 1210.3,1317.0"/><polygon points="1244.1,1317.0 1245.7,1315.7 1247.9,1315.4 1250.0,1315.7 1251.6,1317.0"/><polygon points="1256.0,1317.0 1257.6,1315.7 1259.7,1315.4 1261.9,1315.7 1263.5,1317.0"/><polygon points="1266.6,1317.0 1269.0,1314.5 1272.1,1313.8 1275.2,1314.5 1277.6,1317.0"/><polygon points="1280.1,1317.0 1282.5,1314.5 1285.6,1313.8 1288.6,1314.5 1291.1,1317.0"/><polygon points="1465.4,1317.0 1467.0,1316.0 1469.0,1315.7 1471.1,1316.0 1472.6,1317.0"/><polygon points="1484.2,1317.0 1486.7,1315.0 1494.1,1314.5 1501.5,1315.0 1504.0,1317.0"/><polygon points="1514.6,1317.0 1517.1,1314.5 1522.9,1313.8 1528.7,1314.5 1531.2,1317.0"/><polygon points="1543.1,1317.0 1544.8,1315.7 1547.0,1315.4 1549.2,1315.7 1550.9,1317.0"/><polygon points="1566.3,1317.0 1568.8,1315.7 1574.9,1315.4 1581.0,1315.7 1583.5,1317.0"/><polygon points="1604.7,1317.0 1607.2,1314.0 1615.7,1313.2 1624.1,1314.0 1626.6,1317.0"/><polygon points="1647.6,1317.0 1649.2,1315.7 1651.2,1315.4 1653.2,1315.7 1654.8,1317.0"/><polygon points="1662.6,1317.0 1665.1,1315.7 1671.2,1315.4 1677.3,1315.7 1679.8,1317.0"/><polygon points="1700.2,1317.0 1702.7,1314.5 1706.1,1313.8 1709.6,1314.5 1712.1,1317.0"/><polygon points="1809.1,1317.0 1811.6,1312.0 1815.2,1310.7 1818.9,1312.0 1821.4,1317.0"/><polygon points="1856.7,1317.0 1858.8,1314.5 1861.4,1313.8 1864.1,1314.5 1866.1,1317.0"/><polygon points="1930.3,1317.0 1932.8,1314.5 1936.6,1313.8 1940.3,1314.5 1942.8,1317.0"/><polygon points="1946.0,1317.0 1947.7,1315.7 1949.9,1315.4 1952.1,1315.7 1953.8,1317.0"/><polygon points="1960.1,1317.0 1961.6,1315.7 1963.5,1315.4 1965.4,1315.7 1966.9,1317.0"/><polygon points="1969.4,1317.0 1971.9,1314.5 1976.0,1313.8 1980.1,1314.5 1982.6,1317.0"/><polygon points="1989.8,1317.0 1991.9,1314.5 1994.5,1313.8 1997.1,1314.5 1999.2,1317.0"/><polygon points="2000.8,1317.0 2003.3,1312.0 2007.8,1310.7 2012.3,1312.0 2014.8,1317.0"/><polygon points="2043.0,1317.0 2045.5,1315.7 2050.1,1315.4 2054.6,1315.7 2057.1,1317.0"/><polygon points="2060.9,1317.0 2062.8,1312.5 2065.2,1311.3 2067.7,1312.5 2069.6,1317.0"/></g>
<line x1="704.0" y1="1316.98" x2="2134.8" y2="1316.98" stroke="#000000" stroke-width="1.1"/>
<g fill="#FF3030"><polygon points="880.0,1476.8 880.0,1473.7 882.3,1474.3 884.6,1476.8 887.0,1474.8 892.8,1473.7 895.1,1476.0 898.6,1470.8 902.0,1466.7 904.9,1469.1 907.2,1468.5 909.6,1473.1 911.3,1470.8 913.6,1471.4 916.5,1467.9 918.3,1472.0 920.0,1467.9 921.7,1467.3 924.1,1462.1 926.4,1445.9 928.7,1435.4 930.4,1412.2 931.6,1394.8 932.8,1400.6 934.5,1371.1 936.8,1385.6 938.6,1405.3 939.7,1384.4 941.4,1385.6 943.8,1382.1 945.5,1386.7 946.7,1405.3 948.4,1434.3 950.1,1442.4 953.0,1451.7 956.5,1443.5 958.3,1426.2 961.2,1421.5 963.5,1412.8 965.8,1421.5 968.1,1433.1 969.9,1435.4 972.8,1442.4 975.1,1446.4 977.4,1444.7 979.7,1450.5 982.6,1459.8 984.3,1463.3 986.1,1462.1 989.0,1452.8 991.3,1457.5 993.6,1463.3 995.9,1466.7 998.8,1468.5 1001.2,1472.0 1005.2,1472.0 1007.0,1466.7 1009.9,1466.2 1011.6,1455.1 1013.3,1457.5 1014.5,1448.2 1016.2,1449.3 1017.4,1447.0 1020.3,1455.7 1023.2,1465.0 1024.9,1474.8 1027.8,1476.0 1029.6,1473.7 1035.9,1473.1 1037.7,1474.8 1041.2,1474.8 1043.5,1476.0 1047.5,1476.8 1074.8,1476.8 1075.9,1475.4 1080.0,1475.4 1080.0,1476.8"/><polygon points="769.0,1476.8 770.8,1475.2 773.1,1474.8 775.4,1475.2 777.3,1476.8"/><polygon points="789.6,1476.8 791.6,1475.2 794.2,1474.8 796.7,1475.2 798.7,1476.8"/><polygon points="821.5,1476.8 824.0,1473.4 829.4,1472.5 834.8,1473.4 837.3,1476.8"/><polygon points="839.1,1476.8 841.6,1474.1 846.4,1473.4 851.1,1474.1 853.6,1476.8"/><polygon points="859.7,1476.8 862.2,1474.8 872.1,1474.2 882.0,1474.8 884.5,1476.8"/><polygon points="886.3,1476.8 888.8,1474.8 893.1,1474.2 897.5,1474.8 900.0,1476.8"/><polygon points="1074.1,1476.8 1075.8,1475.8 1078.0,1475.6 1080.2,1475.8 1081.9,1476.8"/><polygon points="1090.7,1476.8 1092.3,1475.8 1094.4,1475.6 1096.5,1475.8 1098.2,1476.8"/><polygon points="1174.3,1476.8 1176.8,1474.3 1186.0,1473.7 1195.3,1474.3 1197.8,1476.8"/><polygon points="1200.9,1476.8 1203.3,1473.8 1206.4,1473.1 1209.4,1473.8 1211.8,1476.8"/><polygon points="1221.2,1476.8 1223.7,1474.8 1228.6,1474.3 1233.5,1474.8 1236.0,1476.8"/><polygon points="1244.1,1476.8 1246.6,1475.6 1251.5,1475.3 1256.3,1475.6 1258.8,1476.8"/><polygon points="1275.4,1476.8 1277.1,1475.8 1279.2,1475.6 1281.3,1475.8 1282.9,1476.8"/><polygon points="1294.2,1476.8 1296.7,1474.8 1300.0,1474.3 1303.3,1474.8 1305.8,1476.8"/><polygon points="1401.3,1476.8 1403.8,1472.3 1411.4,1471.2 1419.1,1472.3 1421.6,1476.8"/><polygon points="1437.3,1476.8 1439.8,1473.8 1445.6,1473.1 1451.4,1473.8 1453.9,1476.8"/><polygon points="1465.4,1476.8 1467.9,1475.3 1481.6,1474.9 1495.2,1475.3 1497.7,1476.8"/><polygon points="1509.3,1476.8 1511.0,1474.8 1513.2,1474.3 1515.4,1474.8 1517.1,1476.8"/><polygon points="1522.7,1476.8 1525.2,1471.8 1539.5,1470.6 1553.7,1471.8 1556.2,1476.8"/><polygon points="1532.8,1476.8 1537.1,1465.9 1537.9,1465.9 1542.2,1476.8"/><polygon points="1557.8,1476.8 1559.9,1474.3 1562.5,1473.7 1565.1,1474.3 1567.2,1476.8"/><polygon points="1569.7,1476.8 1571.6,1474.3 1573.9,1473.7 1576.3,1474.3 1578.2,1476.8"/><polygon points="1586.0,1476.8 1588.1,1474.8 1590.7,1474.3 1593.3,1474.8 1595.4,1476.8"/><polygon points="1603.1,1476.8 1605.6,1474.8 1610.2,1474.3 1614.7,1474.8 1617.2,1476.8"/><polygon points="1618.8,1476.8 1621.3,1474.3 1626.6,1473.7 1631.9,1474.3 1634.4,1476.8"/><polygon points="1640.1,1476.8 1641.6,1475.8 1643.5,1475.6 1645.4,1475.8 1647.0,1476.8"/><polygon points="1651.7,1476.8 1653.7,1475.3 1656.4,1474.9 1659.0,1475.3 1661.1,1476.8"/><polygon points="1669.5,1476.8 1671.1,1475.8 1673.1,1475.6 1675.1,1475.8 1676.7,1476.8"/><polygon points="1678.9,1476.8 1680.7,1474.8 1683.0,1474.3 1685.2,1474.8 1687.0,1476.8"/><polygon points="1690.2,1476.8 1692.7,1474.3 1699.9,1473.7 1707.1,1474.3 1709.6,1476.8"/><polygon points="1692.4,1476.8 1695.9,1471.2 1696.7,1471.2 1700.2,1476.8"/><polygon points="1721.5,1476.8 1724.0,1473.8 1730.9,1473.1 1737.8,1473.8 1740.3,1476.8"/><polygon points="1750.9,1476.8 1753.4,1475.8 1758.1,1475.6 1762.8,1475.8 1765.3,1476.8"/><polygon points="1785.3,1476.8 1787.8,1475.3 1795.2,1474.9 1802.6,1475.3 1805.1,1476.8"/><polygon points="1808.2,1476.8 1810.7,1474.3 1830.1,1473.7 1849.5,1474.3 1852.0,1476.8"/><polygon points="1855.2,1476.8 1857.7,1474.3 1861.4,1473.7 1865.2,1474.3 1867.7,1476.8"/><polygon points="1870.8,1476.8 1873.3,1474.3 1886.5,1473.7 1899.6,1474.3 1902.1,1476.8"/><polygon points="1877.1,1476.8 1878.8,1473.1 1881.0,1472.1 1883.2,1473.1 1884.9,1476.8"/><polygon points="1911.5,1476.8 1914.0,1474.3 1922.0,1473.7 1930.0,1474.3 1932.5,1476.8"/><polygon points="1951.3,1476.8 1953.8,1475.3 1959.6,1474.9 1965.4,1475.3 1967.9,1476.8"/><polygon points="1969.4,1476.8 1971.9,1475.3 1974.9,1474.9 1978.0,1475.3 1980.4,1476.8"/><polygon points="1982.0,1476.8 1986.3,1468.1 1987.1,1468.1 1991.4,1476.8"/><polygon points="1993.9,1476.8 1995.7,1475.8 1998.1,1475.6 2000.5,1475.8 2002.3,1476.8"/><polygon points="2004.5,1476.8 2006.8,1475.3 2009.7,1474.9 2012.6,1475.3 2014.8,1476.8"/><polygon points="2019.5,1476.8 2022.0,1474.3 2038.3,1473.7 2054.6,1474.3 2057.1,1476.8"/><polygon points="2027.4,1476.8 2029.9,1473.1 2039.1,1472.1 2048.3,1473.1 2050.8,1476.8"/><polygon points="2058.7,1476.8 2060.4,1475.8 2062.6,1475.6 2064.8,1475.8 2066.5,1476.8"/></g>
<line x1="704.0" y1="1476.82" x2="2134.8" y2="1476.82" stroke="#000000" stroke-width="1.1"/>
<g fill="#B23AEE"><polygon points="880.0,1636.7 880.0,1636.7 894.5,1636.7 896.8,1632.4 900.3,1632.4 902.6,1636.7 907.2,1636.7 907.6,1632.4 911.3,1632.4 913.6,1627.2 914.2,1632.4 915.9,1632.4 917.7,1627.2 919.4,1631.8 923.5,1621.9 924.6,1627.2 926.4,1617.9 928.1,1627.2 929.3,1627.2 931.6,1593.5 933.9,1584.8 934.5,1568.6 935.7,1564.5 937.4,1568.6 938.0,1588.3 940.3,1574.4 941.4,1588.3 942.6,1588.3 943.5,1583.7 946.7,1579.6 947.8,1602.8 949.0,1603.4 951.3,1612.7 954.2,1622.5 955.9,1603.4 957.1,1599.9 958.3,1583.7 961.2,1579.0 963.5,1596.4 964.6,1608.0 965.8,1622.5 968.7,1622.5 969.9,1617.9 971.6,1617.9 972.2,1615.0 973.9,1613.2 975.7,1627.2 976.8,1627.2 978.0,1623.1 981.4,1632.4 982.0,1632.4 983.8,1612.7 984.9,1617.3 986.1,1608.0 989.6,1603.4 990.7,1616.1 991.9,1617.3 994.2,1622.5 995.9,1632.4 998.8,1632.4 999.4,1636.7 1008.1,1636.7 1009.3,1622.5 1012.2,1622.5 1015.1,1608.0 1017.4,1617.3 1019.1,1617.3 1023.2,1632.4 1027.8,1632.4 1029.0,1636.7 1043.5,1636.7 1044.1,1632.4 1049.9,1632.4 1050.4,1636.7 1080.0,1636.7 1080.0,1636.7"/><polygon points="1134.2,1636.7 1135.2,1632.0 1145.1,1632.0 1146.1,1636.7"/><polygon points="1137.6,1636.7 1139.4,1627.9 1140.2,1627.9 1142.0,1636.7"/><polygon points="1462.3,1636.7 1463.3,1632.0 1469.8,1632.0 1470.8,1636.7"/><polygon points="1490.5,1636.7 1491.5,1632.0 1496.4,1632.0 1497.4,1636.7"/><polygon points="1614.1,1636.7 1615.1,1632.0 1621.5,1632.0 1622.5,1636.7"/><polygon points="1634.4,1636.7 1635.4,1632.0 1641.3,1632.0 1642.3,1636.7"/><polygon points="1680.8,1636.7 1681.8,1632.0 1686.0,1632.0 1687.0,1636.7"/><polygon points="1691.4,1636.7 1692.4,1632.0 1698.6,1632.0 1699.6,1636.7"/><polygon points="1702.7,1636.7 1703.7,1627.3 1711.7,1627.3 1712.7,1636.7"/><polygon points="1747.8,1636.7 1748.8,1632.0 1754.0,1632.0 1755.0,1636.7"/><polygon points="1761.2,1636.7 1762.2,1632.0 1766.5,1632.0 1767.5,1636.7"/><polygon points="1918.7,1636.7 1919.7,1632.0 1926.2,1632.0 1927.2,1636.7"/><polygon points="1937.5,1636.7 1938.5,1632.0 1943.4,1632.0 1944.4,1636.7"/></g>
<line x1="704.0" y1="1636.66" x2="2134.8" y2="1636.66" stroke="#000000" stroke-width="1.1"/>
<g fill="#B23AEE"><polygon points="880.0,1796.5 880.0,1790.5 881.2,1790.5 882.9,1796.5 891.0,1796.5 891.6,1790.5 897.4,1790.5 900.3,1796.5 924.1,1796.5 925.8,1790.5 927.5,1766.7 928.7,1754.5 931.0,1736.6 932.2,1736.6 933.3,1745.8 934.5,1725.0 935.7,1724.4 936.2,1735.4 938.0,1727.3 940.3,1700.0 942.6,1706.4 943.8,1712.2 945.5,1716.8 946.7,1727.3 947.2,1744.7 948.4,1762.1 950.1,1766.7 951.3,1778.3 952.5,1778.3 953.6,1766.1 954.8,1772.5 955.4,1760.3 957.7,1754.5 960.0,1772.5 961.2,1762.1 962.3,1772.5 964.1,1778.3 965.2,1778.3 966.4,1766.1 968.7,1772.5 969.9,1760.9 972.2,1754.5 973.3,1759.7 974.5,1754.5 976.2,1767.9 977.4,1772.5 979.1,1773.7 979.7,1778.3 981.4,1780.6 983.2,1784.7 986.1,1778.9 988.4,1784.7 990.1,1778.9 991.3,1784.7 992.5,1784.7 994.8,1778.3 997.7,1784.7 999.4,1784.7 1001.2,1773.1 1002.9,1784.7 1004.6,1784.7 1006.4,1766.7 1008.7,1772.5 1011.0,1772.5 1012.8,1766.7 1014.5,1766.7 1016.2,1766.7 1019.1,1778.3 1021.4,1790.5 1023.2,1796.5 1027.2,1796.5 1028.4,1790.5 1033.6,1790.5 1034.2,1796.5 1080.0,1796.5 1080.0,1796.5"/><polygon points="876.0,1796.5 877.0,1791.3 881.8,1791.3 882.8,1796.5"/><polygon points="1110.2,1796.5 1111.5,1790.9 1113.4,1790.9 1116.7,1785.0 1118.6,1790.0 1120.4,1790.9 1123.7,1796.5"/><polygon points="1172.4,1796.5 1173.8,1790.9 1177.0,1790.9 1178.8,1785.0 1180.1,1785.0 1182.6,1766.8 1185.3,1774.2 1188.1,1779.8 1189.1,1790.9 1192.8,1790.9 1193.7,1785.0 1194.6,1790.9 1199.3,1790.9 1200.2,1785.0 1203.0,1785.0 1205.8,1767.7 1208.5,1778.9 1211.3,1790.9 1212.2,1796.5 1213.5,1791.9 1216.9,1790.9 1218.4,1778.9 1221.5,1778.9 1223.4,1785.4 1225.2,1796.5"/><polygon points="1267.9,1796.5 1269.8,1785.0 1274.4,1785.0 1276.3,1796.5"/><polygon points="1382.0,1796.5 1383.9,1790.9 1388.5,1790.9 1389.8,1796.5"/><polygon points="1400.0,1796.5 1400.9,1790.9 1407.1,1790.9 1407.6,1796.5"/><polygon points="1602.1,1796.5 1602.6,1790.9 1605.8,1790.9 1608.0,1785.0 1610.4,1790.9 1612.6,1790.9 1613.0,1796.5"/><polygon points="1679.1,1796.5 1682.8,1790.9 1685.5,1790.9 1685.9,1796.5"/><polygon points="1694.3,1796.5 1695.8,1790.9 1698.5,1790.9 1699.8,1785.0 1700.9,1790.9 1702.2,1790.9 1703.5,1786.3 1704.7,1790.9 1708.7,1790.9 1710.6,1796.5"/><polygon points="1746.2,1796.5 1747.7,1790.9 1751.4,1785.0 1754.7,1790.9 1756.6,1790.9 1757.0,1796.5"/><polygon points="1817.3,1796.5 1819.1,1790.9 1821.0,1785.0 1825.6,1785.0 1828.4,1790.9 1830.8,1790.9 1831.7,1796.5"/><polygon points="1834.9,1796.5 1836.4,1790.9 1838.6,1790.9 1839.5,1778.9 1844.5,1778.9 1845.7,1790.9 1847.9,1790.9 1848.8,1796.5"/><polygon points="1854.4,1796.5 1855.3,1790.9 1857.2,1790.9 1859.4,1778.9 1861.8,1785.4 1863.7,1790.9 1865.5,1790.9 1865.9,1796.5"/><polygon points="1900.2,1796.5 1901.3,1790.9 1906.3,1790.9 1907.6,1796.5"/><polygon points="1900.0,1796.5 1901.0,1790.9 1906.5,1790.9 1907.8,1796.5"/><polygon points="1921.2,1796.5 1922.7,1790.9 1924.5,1785.0 1928.6,1785.0 1930.1,1790.9 1935.3,1790.9 1936.6,1796.5"/><polygon points="1965.9,1796.5 1966.3,1790.9 1971.8,1790.9 1972.8,1785.0 1973.3,1790.9 1978.3,1790.9 1979.6,1796.5"/><polygon points="2026.6,1796.5 2027.5,1785.4 2029.0,1778.9 2031.8,1778.9 2033.1,1785.4 2035.5,1796.5 2037.7,1796.5 2038.6,1790.9 2043.3,1773.3 2046.0,1781.7 2048.8,1790.9 2049.8,1796.5"/><polygon points="2062.2,1796.5 2063.3,1790.9 2067.8,1790.9 2068.7,1796.5"/></g>
<line x1="704.0" y1="1796.50" x2="2134.8" y2="1796.50" stroke="#000000" stroke-width="1.1"/>
<rect x="158" y="46" width="4.1" height="1757" fill="#000"/>
<g fill="#333333"><rect x="148.8" y="196.20" width="11" height="3.8"/><rect x="148.8" y="153.46" width="11" height="3.8"/><rect x="148.8" y="110.72" width="11" height="3.8"/><rect x="148.8" y="67.98" width="11" height="3.8"/><rect x="148.8" y="356.04" width="11" height="3.8"/><rect x="148.8" y="313.30" width="11" height="3.8"/><rect x="148.8" y="270.56" width="11" height="3.8"/><rect x="148.8" y="227.82" width="11" height="3.8"/><rect x="148.8" y="515.88" width="11" height="3.8"/><rect x="148.8" y="473.14" width="11" height="3.8"/><rect x="148.8" y="430.40" width="11" height="3.8"/><rect x="148.8" y="387.66" width="11" height="3.8"/><rect x="148.8" y="675.72" width="11" height="3.8"/><rect x="148.8" y="632.98" width="11" height="3.8"/><rect x="148.8" y="590.24" width="11" height="3.8"/><rect x="148.8" y="547.50" width="11" height="3.8"/><rect x="148.8" y="835.56" width="11" height="3.8"/><rect x="148.8" y="792.82" width="11" height="3.8"/><rect x="148.8" y="750.08" width="11" height="3.8"/><rect x="148.8" y="707.34" width="11" height="3.8"/><rect x="148.8" y="995.40" width="11" height="3.8"/><rect x="148.8" y="952.66" width="11" height="3.8"/><rect x="148.8" y="909.92" width="11" height="3.8"/><rect x="148.8" y="867.18" width="11" height="3.8"/><rect x="148.8" y="1155.24" width="11" height="3.8"/><rect x="148.8" y="1112.50" width="11" height="3.8"/><rect x="148.8" y="1069.76" width="11" height="3.8"/><rect x="148.8" y="1027.02" width="11" height="3.8"/><rect x="148.8" y="1315.08" width="11" height="3.8"/><rect x="148.8" y="1272.34" width="11" height="3.8"/><rect x="148.8" y="1229.60" width="11" height="3.8"/><rect x="148.8" y="1186.86" width="11" height="3.8"/><rect x="148.8" y="1474.92" width="11" height="3.8"/><rect x="148.8" y="1432.18" width="11" height="3.8"/><rect x="148.8" y="1389.44" width="11" height="3.8"/><rect x="148.8" y="1346.70" width="11" height="3.8"/><rect x="148.8" y="1634.76" width="11" height="3.8"/><rect x="148.8" y="1592.02" width="11" height="3.8"/><rect x="148.8" y="1549.28" width="11" height="3.8"/><rect x="148.8" y="1506.54" width="11" height="3.8"/><rect x="148.8" y="1794.60" width="11" height="3.8"/><rect x="148.8" y="1751.86" width="11" height="3.8"/><rect x="148.8" y="1709.12" width="11" height="3.8"/><rect x="148.8" y="1666.38" width="11" height="3.8"/></g>
<g fill="#444444"><rect x="158" y="204.95" width="4.1" height="1"/><rect x="158" y="364.79" width="4.1" height="1"/><rect x="158" y="524.63" width="4.1" height="1"/><rect x="158" y="684.47" width="4.1" height="1"/><rect x="158" y="844.31" width="4.1" height="1"/><rect x="158" y="1004.15" width="4.1" height="1"/><rect x="158" y="1163.99" width="4.1" height="1"/><rect x="158" y="1323.83" width="4.1" height="1"/><rect x="158" y="1483.67" width="4.1" height="1"/><rect x="158" y="1643.51" width="4.1" height="1"/></g>
<g><text transform="scale(0.9979,1)" x="258.35 294.24 329.16 349.99 372.83 385.05 411.74 448.92 471.45 494.26 517.30 527.51 537.72 546.27 571.36 585.96" y="139.00" font-size="38.5" fill="#1A1A1A">WTLef1+Papillary</text><text transform="scale(0.9936,1)" x="249.70 285.71 320.75 350.04 373.47 396.74 423.37 460.72 483.33 506.24 529.35 539.61 549.86 558.47 583.66 598.32" y="298.84" font-size="38.5" fill="#1A1A1A">WTDpp4+Papillary</text><text transform="scale(0.9873,1)" x="245.15 265.56 289.38 329.19 358.66 382.23 405.65 432.46 470.06 492.81 515.86 539.08 549.40 559.72 568.43 593.75 608.53" y="458.68" font-size="38.5" fill="#1A1A1A">cKODpp4+Papillary</text><text transform="scale(0.9877,1)" x="252.64 288.84 323.32 345.69 363.82 387.46 398.01 424.68 462.27 485.01 508.05 531.26 541.58 551.89 560.61 585.92 600.69" y="618.52" font-size="38.5" fill="#1A1A1A">WTTagln+Papillary</text><text transform="scale(0.9815,1)" x="247.99 268.55 292.51 331.75 354.26 372.50 396.25 406.91 433.75 471.59 494.45 517.64 540.95 551.34 561.72 570.53 595.97 610.85" y="778.36" font-size="38.5" fill="#1A1A1A">cKOTagln+Papillary</text><text transform="scale(0.9878,1)" x="193.88 230.07 265.06 277.02 300.50 324.20 345.80 373.53 412.55 441.51 465.44 480.95 513.66 538.01 558.17 580.91 603.95 627.16 637.47 647.79 656.50" y="938.20" font-size="38.5" fill="#1A1A1A">WTInhba+DermalPapilla</text><text transform="scale(0.9828,1)" x="188.62 209.14 233.07 272.74 284.79 308.39 332.21 353.93 381.79 421.04 450.12 474.16 489.79 522.63 547.07 567.39 590.23 613.38 636.67 647.04 657.41 666.20" y="1098.04" font-size="38.5" fill="#1A1A1A">cKOInhba+DermalPapilla</text><text transform="scale(1.0124,1)" x="249.22 284.69 319.02 347.66 358.06 378.56 404.87 442.05 468.49 490.32 503.64 512.83 533.51 556.58 564.90 589.69" y="1257.88" font-size="38.5" fill="#1A1A1A">WTDlk1+Reticular</text><text transform="scale(1.0051,1)" x="245.12 265.09 288.48 327.59 356.36 366.87 387.53 414.02 451.50 478.10 500.04 513.45 522.75 543.59 566.77 575.21 600.15" y="1417.72" font-size="38.5" fill="#1A1A1A">cKODlk1+Reticular</text><text transform="scale(0.9994,1)" x="184.02 219.87 253.17 274.74 295.80 319.09 342.22 368.70 405.82 430.89 444.22 465.59 478.25 503.58 526.37 536.84 559.51 581.49 602.87 625.10 638.37 660.50" y="1577.56" font-size="38.5" fill="#1A1A1A">WTFabp4+Pre-Adipocytes</text><text transform="scale(0.9949,1)" x="178.78 199.01 222.64 260.62 282.29 303.44 326.84 350.07 376.68 413.98 439.13 452.53 473.99 486.73 512.17 535.04 545.58 568.35 590.43 611.91 634.22 647.58 669.80" y="1737.40" font-size="38.5" fill="#1A1A1A">cKOFabp4+Pre-Adipocytes</text></g>
<text transform="translate(79.00,931.70) rotate(-90) scale(0.9953,1)" x="-206.16 -170.85 -141.12 -121.96 -81.35 -51.08 -38.29 -26.29 -1.55 26.85 70.07 94.86 107.50 137.11 164.01 194.28" y="0" font-size="48.12" fill="#000">Normalizedsignal</text>
<text transform="translate(128.10,924.30) rotate(-90) scale(0.9827,1)" x="-161.28 -140.57 -124.59 -93.70 -64.53 -35.00 8.86 52.42 85.08 114.75 145.27" y="0" font-size="48.12" fill="#000">(range0-34)</text>
<rect x="158" y="1861.4" width="4.1" height="174.6" fill="#000"/>
<text transform="translate(79.00,1948.70) rotate(-90) scale(0.9364,1)" x="-71.30 -39.58 -13.10 19.63 46.42" y="0" font-size="48.12" fill="#000">Peaks</text>
<rect x="917.3" y="1939.9" width="115.6" height="17.7" fill="#696969"/>
<rect x="704.0" y="2034.40" width="1430.8" height="4.2" fill="#000"/><rect x="929.30" y="2036.50" width="4.4" height="11.50" fill="#333333"/><text transform="scale(0.9711,1)" x="852.11 876.30 900.32 923.82 948.37 972.25 996.36 1020.39 1044.41" y="2083.00" font-size="38.87" fill="#4D4D4D">143235000</text><rect x="1277.70" y="2036.50" width="4.4" height="11.50" fill="#333333"/><text transform="scale(0.9820,1)" x="1197.42 1221.34 1245.10 1268.34 1292.62 1316.33 1340.08 1363.84 1387.60" y="2083.00" font-size="38.87" fill="#4D4D4D">143240000</text><rect x="1626.00" y="2036.50" width="4.4" height="11.50" fill="#333333"/><text transform="scale(0.9754,1)" x="1562.68 1586.76 1610.68 1634.08 1658.52 1682.30 1706.31 1730.23 1754.15" y="2083.00" font-size="38.87" fill="#4D4D4D">143245000</text><rect x="1974.10" y="2036.50" width="4.4" height="11.50" fill="#333333"/><text transform="scale(0.9761,1)" x="1918.07 1942.13 1966.03 1989.41 2013.69 2037.68 2061.59 2085.49 2109.39" y="2083.00" font-size="38.87" fill="#4D4D4D">143250000</text>
<rect x="158" y="2136.00" width="4.1" height="198.2" fill="#000"/><rect x="704.0" y="2143.10" width="1430.8" height="3.8" fill="#BEBEBE"/><path d="M943.2,2146.90 Q959.05,2507.00 974.9,2146.90" fill="none" stroke="#5933FF" stroke-width="4.4"/>
<text transform="translate(79.00,2235.45) rotate(-90) scale(0.9890,1)" x="-103.81 -58.61 -14.59 11.86 25.02 54.72 80.18" y="0" font-size="48.12" fill="#000">WTLinks</text>
<rect x="158" y="2392.00" width="4.1" height="198.2" fill="#000"/><rect x="704.0" y="2399.10" width="1430.8" height="3.8" fill="#BEBEBE"/><path d="M943.2,2402.90 Q959.05,2763.00 974.9,2402.90" fill="none" stroke="#FF5C3A" stroke-width="4.4"/>
<text transform="translate(79.00,2491.55) rotate(-90) scale(0.9787,1)" x="-99.75 -69.71 -19.54 7.09 20.47 50.49 76.19" y="0" font-size="48.12" fill="#000">KOLinks</text>
<defs><linearGradient id="lgb" x1="0" y1="0" x2="0" y2="1"><stop offset="0" stop-color="#0000FF"/><stop offset="0.1" stop-color="#502BFF"/><stop offset="0.2" stop-color="#7145FF"/><stop offset="0.25" stop-color="#7E52FF"/><stop offset="0.5" stop-color="#B38BFF"/><stop offset="0.75" stop-color="#DCC4FF"/><stop offset="0.9" stop-color="#F2E7FF"/><stop offset="1" stop-color="#FFFFFF"/></linearGradient></defs><text transform="scale(1.0079,1)" x="2184.90 2208.39 2233.96 2263.38 2280.65" y="2181.10" font-size="48.12" fill="#000">score</text><rect x="2203.2" y="2209.10" width="24" height="116.8" fill="url(#lgb)"/><rect x="2203.2" y="2208.40" width="4.8" height="1.4" fill="#fff"/><rect x="2222.4" y="2208.40" width="4.8" height="1.4" fill="#fff"/><text transform="scale(0.9848,1)" x="2285.28 2308.57 2320.92 2344.61" y="2222.00" font-size="38.87" fill="#000">1.00</text><rect x="2203.2" y="2237.60" width="4.8" height="1.4" fill="#fff"/><rect x="2222.4" y="2237.60" width="4.8" height="1.4" fill="#fff"/><text transform="scale(0.9733,1)" x="2312.50 2335.88 2348.40 2372.32" y="2251.20" font-size="38.87" fill="#000">0.75</text><rect x="2203.2" y="2266.80" width="4.8" height="1.4" fill="#fff"/><rect x="2222.4" y="2266.80" width="4.8" height="1.4" fill="#fff"/><text transform="scale(0.9805,1)" x="2295.34 2318.59 2330.93 2354.81" y="2280.40" font-size="38.87" fill="#000">0.50</text><rect x="2203.2" y="2296.00" width="4.8" height="1.4" fill="#fff"/><rect x="2222.4" y="2296.00" width="4.8" height="1.4" fill="#fff"/><text transform="scale(0.9685,1)" x="2323.91 2347.39 2359.57 2384.03" y="2309.60" font-size="38.87" fill="#000">0.25</text><text transform="scale(0.9990,1)" x="2252.70 2275.62 2287.73 2311.08" y="2338.80" font-size="38.87" fill="#000">0.00</text>
<defs><linearGradient id="lgr" x1="0" y1="0" x2="0" y2="1"><stop offset="0" stop-color="#FF0000"/><stop offset="0.1" stop-color="#FF3E22"/><stop offset="0.2" stop-color="#FF5B3A"/><stop offset="0.25" stop-color="#FF6846"/><stop offset="0.5" stop-color="#FF9E81"/><stop offset="0.75" stop-color="#FFCFBF"/><stop offset="0.9" stop-color="#FFECE5"/><stop offset="1" stop-color="#FFFFFF"/></linearGradient></defs><text transform="scale(1.0079,1)" x="2184.90 2208.39 2233.96 2263.38 2280.65" y="2437.10" font-size="48.12" fill="#000">score</text><rect x="2203.2" y="2465.10" width="24" height="116.8" fill="url(#lgr)"/><rect x="2203.2" y="2464.40" width="4.8" height="1.4" fill="#fff"/><rect x="2222.4" y="2464.40" width="4.8" height="1.4" fill="#fff"/><text transform="scale(0.9848,1)" x="2285.28 2308.57 2320.92 2344.61" y="2478.00" font-size="38.87" fill="#000">1.00</text><rect x="2203.2" y="2493.60" width="4.8" height="1.4" fill="#fff"/><rect x="2222.4" y="2493.60" width="4.8" height="1.4" fill="#fff"/><text transform="scale(0.9733,1)" x="2312.50 2335.88 2348.40 2372.32" y="2507.20" font-size="38.87" fill="#000">0.75</text><rect x="2203.2" y="2522.80" width="4.8" height="1.4" fill="#fff"/><rect x="2222.4" y="2522.80" width="4.8" height="1.4" fill="#fff"/><text transform="scale(0.9805,1)" x="2295.34 2318.59 2330.93 2354.81" y="2536.40" font-size="38.87" fill="#000">0.50</text><rect x="2203.2" y="2552.00" width="4.8" height="1.4" fill="#fff"/><rect x="2222.4" y="2552.00" width="4.8" height="1.4" fill="#fff"/><text transform="scale(0.9685,1)" x="2323.91 2347.39 2359.57 2384.03" y="2565.60" font-size="38.87" fill="#000">0.25</text><text transform="scale(0.9990,1)" x="2252.70 2275.62 2287.73 2311.08" y="2594.80" font-size="38.87" fill="#000">0.00</text>
<rect x="158" y="2647.9" width="4.1" height="198.9" fill="#000"/>
<text transform="translate(79.00,2747.65) rotate(-90) scale(0.9825,1)" x="-74.38 -36.51 -7.35 21.75 49.86" y="0" font-size="48.12" fill="#000">Genes</text>
<g fill="#00008B"><rect x="933.5" y="2824.20" width="962.5" height="4.2"/><path d="M933.40,2818.30 L941.40,2826.30 L933.40,2834.30 M961.80,2818.30 L969.80,2826.30 L961.80,2834.30 M1039.00,2818.30 L1047.00,2826.30 L1039.00,2834.30 M1064.98,2818.30 L1072.98,2826.30 L1064.98,2834.30 M1090.96,2818.30 L1098.96,2826.30 L1090.96,2834.30 M1116.94,2818.30 L1124.94,2826.30 L1116.94,2834.30 M1142.92,2818.30 L1150.92,2826.30 L1142.92,2834.30 M1168.90,2818.30 L1176.90,2826.30 L1168.90,2834.30 M1194.88,2818.30 L1202.88,2826.30 L1194.88,2834.30 M1220.86,2818.30 L1228.86,2826.30 L1220.86,2834.30 M1246.84,2818.30 L1254.84,2826.30 L1246.84,2834.30 M1272.82,2818.30 L1280.82,2826.30 L1272.82,2834.30 M1298.80,2818.30 L1306.80,2826.30 L1298.80,2834.30 M1324.78,2818.30 L1332.78,2826.30 L1324.78,2834.30 M1350.76,2818.30 L1358.76,2826.30 L1350.76,2834.30 M1376.74,2818.30 L1384.74,2826.30 L1376.74,2834.30 M1402.72,2818.30 L1410.72,2826.30 L1402.72,2834.30 M1428.70,2818.30 L1436.70,2826.30 L1428.70,2834.30 M1454.68,2818.30 L1462.68,2826.30 L1454.68,2834.30 M1480.66,2818.30 L1488.66,2826.30 L1480.66,2834.30 M1506.64,2818.30 L1514.64,2826.30 L1506.64,2834.30 M1532.62,2818.30 L1540.62,2826.30 L1532.62,2834.30 M1558.60,2818.30 L1566.60,2826.30 L1558.60,2834.30 M1888.00,2818.30 L1896.00,2826.30 L1888.00,2834.30" fill="none" stroke="#00008B" stroke-width="4.2"/><rect x="943.1" y="2812.4" width="14.9" height="27.3"/><rect x="986.0" y="2812.4" width="37.8" height="27.3"/><rect x="1276.8" y="2812.4" width="13.4" height="27.3"/><rect x="1301.7" y="2812.4" width="6.9" height="27.3"/><rect x="1563.1" y="2812.4" width="332.1" height="27.3"/></g>
<text transform="scale(1.0321,1)" x="1332.54 1352.93 1362.58 1380.53 1398.52" y="2813.00" font-size="31.08" fill="#000">Zfp12</text>
<rect x="1955" y="2703.40" width="114.9" height="4.2" fill="#006400"/><path d="M1964.60,2697.00 L1955.60,2705.50 L1964.60,2714.00 M1990.80,2697.00 L1981.80,2705.50 L1990.80,2714.00 M2016.70,2697.00 L2007.70,2705.50 L2016.70,2714.00 M2042.70,2697.00 L2033.70,2705.50 L2042.70,2714.00 M2069.10,2697.00 L2060.10,2705.50 L2069.10,2714.00" fill="none" stroke="#006400" stroke-width="4.2"/>
<text transform="scale(1.0311,1)" x="1900.83 1921.23 1930.89 1949.01 1967.12 1985.52" y="2692.00" font-size="31.08" fill="#000">Zfp316</text>
<rect x="704.0" y="2845.40" width="1430.8" height="4.2" fill="#000"/><rect x="929.30" y="2847.50" width="4.4" height="11.50" fill="#333333"/><text transform="scale(0.9711,1)" x="852.11 876.30 900.32 923.82 948.37 972.25 996.36 1020.39 1044.41" y="2893.80" font-size="38.87" fill="#4D4D4D">143235000</text><rect x="1277.70" y="2847.50" width="4.4" height="11.50" fill="#333333"/><text transform="scale(0.9820,1)" x="1197.42 1221.34 1245.10 1268.34 1292.62 1316.33 1340.08 1363.84 1387.60" y="2893.80" font-size="38.87" fill="#4D4D4D">143240000</text><rect x="1626.00" y="2847.50" width="4.4" height="11.50" fill="#333333"/><text transform="scale(0.9754,1)" x="1562.68 1586.76 1610.68 1634.08 1658.52 1682.30 1706.31 1730.23 1754.15" y="2893.80" font-size="38.87" fill="#4D4D4D">143245000</text><rect x="1974.10" y="2847.50" width="4.4" height="11.50" fill="#333333"/><text transform="scale(0.9761,1)" x="1918.07 1942.13 1966.03 1989.41 2013.69 2037.68 2061.59 2085.49 2109.39" y="2893.80" font-size="38.87" fill="#4D4D4D">143250000</text>
<text transform="scale(1.0064,1)" x="1208.15 1234.33 1264.21 1281.75 1325.56 1353.70 1381.19 1405.77 1419.54 1436.28 1448.44 1476.93 1518.77 1538.17 1567.07 1596.77" y="2945.20" font-size="48.12" fill="#000">chr5position(bp)</text>
</svg></body></html>
